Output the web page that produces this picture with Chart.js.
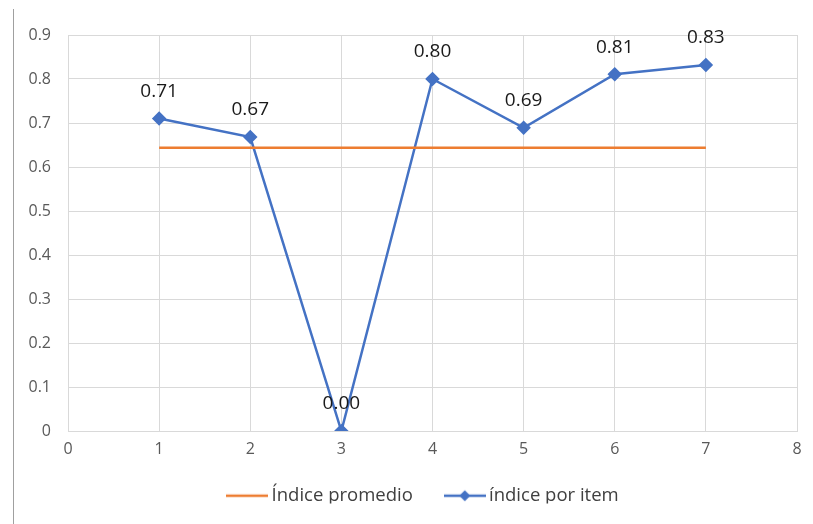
<!DOCTYPE html>
<html>
<head>
<meta charset="utf-8">
<script src="https://cdn.jsdelivr.net/npm/chart.js@4.4.1/dist/chart.umd.min.js"></script>
<style>
  html, body { margin: 0; padding: 0; background: #fff; }
  #wrap { position: relative; width: 813px; height: 524px; overflow: hidden; }
  #edge { position: absolute; left: 13px; top: 9px; width: 1px; height: 515px; background: #a0a0a0; }
  canvas { position: absolute; left: 0; top: 0; }
</style>
</head>
<body>
<div id="wrap">
  <canvas id="c" width="813" height="524"></canvas>
  <div id="edge"></div>
</div>
<script>
const items = [1, 2, 3, 4, 5, 6, 7];
const indicePorItem = [0.71, 0.668, 0.0, 0.80, 0.689, 0.811, 0.832];
const indicePromedio = [0.644, 0.644, 0.644, 0.644, 0.644, 0.644, 0.644];
const xTicks = [0, 1, 2, 3, 4, 5, 6, 7, 8];
const yTicks = [0, 0.1, 0.2, 0.3, 0.4, 0.5, 0.6, 0.7, 0.8, 0.9];
const seriesNames = ['Índice promedio', 'índice por item'];

const ORANGE = '#ED7D31';
const BLUE = '#4472C4';
const FONT = '"Open Sans", Lato, sans-serif';

function legendIcon(color, marker) {
  const cv = document.createElement('canvas');
  cv.width = 42; cv.height = 14;
  const g = cv.getContext('2d');
  g.strokeStyle = color; g.lineWidth = 2.5;
  g.beginPath(); g.moveTo(0, 7); g.lineTo(42, 7); g.stroke();
  if (marker) {
    g.fillStyle = color;
    g.beginPath(); g.moveTo(21, 1.5); g.lineTo(26.5, 7); g.lineTo(21, 12.5); g.lineTo(15.5, 7); g.closePath(); g.fill();
  }
  return cv;
}
const icons = [legendIcon(ORANGE, false), legendIcon(BLUE, true)];

const dataLabels = {
  id: 'dataLabels',
  afterDatasetsDraw(chart) {
    const meta = chart.getDatasetMeta(1);
    const ctx = chart.ctx;
    ctx.save();
    ctx.font = '19px ' + FONT;
    ctx.fillStyle = '#1a1a1a';
    ctx.textAlign = 'center';
    ctx.textBaseline = 'middle';
    meta.data.forEach((el, i) => {
      ctx.fillText(indicePorItem[i].toFixed(2), el.x, el.y - 27);
    });
    ctx.restore();
  }
};

// Legend placement: keep its height compact, then nudge it into place.
const LEGEND_TRIM = 11.5;
const legendShift = {
  id: 'legendShift',
  beforeLayout(chart) {
    const lg = chart.legend;
    if (lg && !lg._trimmed) {
      const origFit = lg.fit.bind(lg);
      lg.fit = function () { origFit(); this.height -= LEGEND_TRIM; };
      lg._trimmed = true;
    }
  },
  afterLayout(chart) {
    const lg = chart.legend;
    if (lg) {
      lg.left += 27; lg.right += 27;
      lg.top -= LEGEND_TRIM; lg.bottom -= LEGEND_TRIM;
    }
  }
};

new Chart(document.getElementById('c'), {
  type: 'line',
  data: {
    datasets: [
      {
        label: seriesNames[0],
        data: items.map((x, i) => ({ x: x, y: indicePromedio[i] })),
        borderColor: ORANGE,
        backgroundColor: ORANGE,
        borderWidth: 2.5,
        pointRadius: 0,
        pointHoverRadius: 0,
        tension: 0
      },
      {
        label: seriesNames[1],
        data: items.map((x, i) => ({ x: x, y: indicePorItem[i] })),
        borderColor: BLUE,
        backgroundColor: BLUE,
        borderWidth: 2.5,
        pointStyle: 'rectRot',
        pointRadius: 5.5,
        pointHoverRadius: 5.5,
        tension: 0
      }
    ]
  },
  options: {
    responsive: false,
    animation: false,
    events: [],
    layout: { padding: { left: 0, right: 16, top: 35, bottom: 9 } },
    scales: {
      x: {
        type: 'linear',
        min: 0, max: 8,
        afterBuildTicks: s => { s.ticks = xTicks.map(v => ({ value: v })); },
        afterFit: s => { s.height = 30; },
        ticks: { color: '#595959', font: { family: FONT, size: 16 }, padding: 9 },
        grid: { color: '#d9d9d9', lineWidth: 1, drawTicks: false },
        border: { color: '#d9d9d9' }
      },
      y: {
        min: 0, max: 0.9,
        afterBuildTicks: s => { s.ticks = yTicks.map(v => ({ value: v })); },
        afterFit: s => { s.width = 68; },
        ticks: {
          color: '#595959', font: { family: FONT, size: 16 }, padding: 17,
          callback: v => (v === 0 ? '0' : (+v).toFixed(1))
        },
        grid: { color: '#d9d9d9', lineWidth: 1, drawTicks: false },
        border: { color: '#d9d9d9' }
      }
    },
    plugins: {
      tooltip: { enabled: false },
      legend: {
        position: 'bottom',
        labels: {
          usePointStyle: true,
          pointStyleWidth: 30,
          padding: 37,
          color: '#404040',
          font: { family: FONT, size: 18.5 },
          generateLabels: chart => chart.data.datasets.map((d, i) => ({
            text: d.label,
            pointStyle: icons[i],
            fillStyle: d.borderColor,
            strokeStyle: d.borderColor,
            lineWidth: 0,
            fontColor: '#404040',
            hidden: false,
            datasetIndex: i
          }))
        }
      }
    }
  },
  plugins: [dataLabels, legendShift]
});
</script>
</body>
</html>
